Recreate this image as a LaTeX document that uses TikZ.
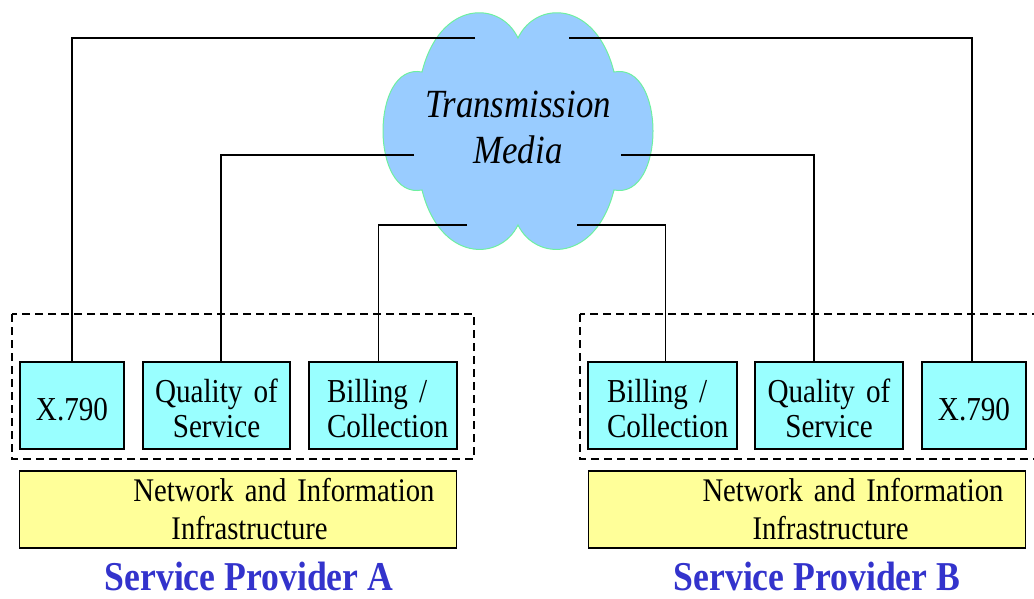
\documentclass[tikz,border=0pt]{standalone}
\usepackage{fontspec}
\setmainfont[FakeStretch=0.87]{Liberation Serif}
\definecolor{cloudfill}{RGB}{153,204,255}
\definecolor{cloudline}{RGB}{110,240,160}
\definecolor{cyanbox}{RGB}{153,255,255}
\definecolor{yellowbox}{RGB}{255,255,153}
\definecolor{titleblue}{RGB}{51,51,204}
\newcommand{\tstrut}{\rule{0pt}{30pt}}
\begin{document}
\begin{tikzpicture}[x=1pt,y=-1pt,
  mbox/.style={draw=black, line width=1.4pt, fill=cyanbox, inner sep=0pt,
    minimum height=87pt, align=center, font=\fontsize{33.5}{35}\selectfont},
  infbox/.style={draw=black, line width=1.4pt, fill=yellowbox, inner sep=0pt,
    minimum width=437pt, minimum height=77pt, text width=437pt, align=left,
    font=\fontsize{33}{38}\selectfont},
  group/.style={draw=black, dash pattern=on 8pt off 5pt, line width=1.5pt},
  link/.style={draw=black, line width=1.2pt},
  cloudtext/.style={align=center, font=\fontsize{40}{46}\selectfont\itshape},
  title/.style={anchor=base, text=titleblue, inner ysep=0pt,
    font=\fontsize{41}{44}\selectfont\bfseries}
]
\useasboundingbox (0,0) rectangle (1034,599);

% cloud
\path[fill=cloudfill, draw=cloudline, line width=1pt]
  (518,38) .. controls (500,0) and (440,0) .. (422,72)
  .. controls (370,62) and (370,200) .. (422,190)
  .. controls (440,262) and (500,262) .. (518,225)
  .. controls (536,262) and (596,262) .. (614,190)
  .. controls (666,200) and (666,62) .. (614,72)
  .. controls (596,0) and (536,0) .. (518,38) -- cycle;
\node[cloudtext] (media) at (518,127) {Transmission\\Media};

\coordinate (c1) at (475,38);
\coordinate (c2) at (569,38);
\coordinate (c3) at (414,155);
\coordinate (c4) at (621,155);
\coordinate (c5) at (467,225);
\coordinate (c6) at (577,225);

% groups
\draw[group] (12,314) rectangle (474,459);
\begin{scope}
\clip (0,0) rectangle (1034,599);
\draw[group] (580,314) rectangle (1042,459);
\end{scope}

% provider A
\node[mbox, text width=104pt] (xa) at (72,405.5) {\tstrut X.790};
\node[mbox, text width=147pt] (qa) at (216.5,405.5) {\tstrut Quality of\\Service};
\node[mbox, text width=148pt, align=left] (ba) at (383,405.5) {\tstrut\hspace*{18pt}Billing /\\\hspace*{18pt}Collection};
\node[infbox] (ia) at (238,509.5) {\hspace*{114pt}Network and Information\\\hspace*{152pt}Infrastructure};
\node[title] (ta) at (249,590) {Service Provider A};

% provider B
\node[mbox, text width=149pt, align=left] (bb) at (662.5,405.5) {\tstrut\hspace*{19pt}Billing /\\\hspace*{19pt}Collection};
\node[mbox, text width=148pt] (qb) at (829,405.5) {\tstrut Quality of\\Service};
\node[mbox, text width=104pt] (xb) at (974,405.5) {\tstrut X.790};
\node[infbox] (ib) at (807,509.5) {\hspace*{114pt}Network and Information\\\hspace*{164pt}Infrastructure};
\node[title] (tb) at (817,590) {Service Provider B};

% connectors
\draw[link] (c1) -| (xa.north);
\draw[link] (c3) -| ([xshift=4.5pt]qa.north);
\draw[link] (c5) -| ([xshift=-4.7pt]ba.north);
\draw[link] (c6) -| ([xshift=3pt]bb.north);
\draw[link] (c4) -| ([xshift=-15pt]qb.north);
\draw[link] (c2) -| ([xshift=-2pt]xb.north);
\end{tikzpicture}
\end{document}
